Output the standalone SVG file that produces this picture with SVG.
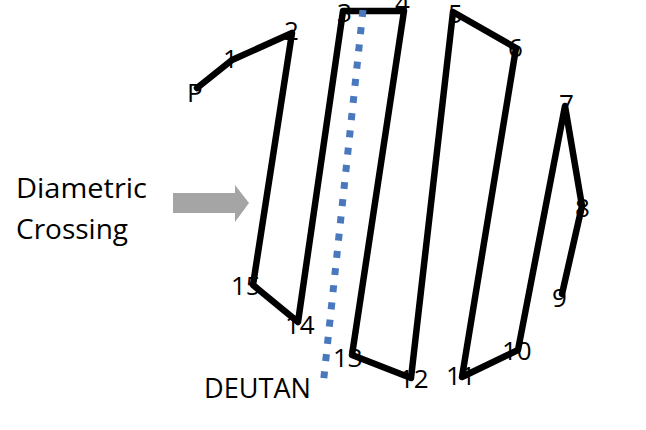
<svg xmlns="http://www.w3.org/2000/svg" width="646" height="430" viewBox="0 0 646 430">
<style>
.lbl{font-family:"Open Sans","Liberation Sans",sans-serif;font-size:27px;fill:#000}
.num{font-family:"Open Sans","Liberation Sans",sans-serif;font-size:26px;fill:#000}
.path{fill:none;stroke:#000;stroke-width:6.5;stroke-linejoin:round;stroke-linecap:round}
.deutan{fill:none;stroke:#4a78bd;stroke-width:7;stroke-dasharray:7 10.3}
</style>
<rect width="646" height="430" fill="#fff"/>
<g id="labels">
<g id="n-P"><text class="num" x="187" y="102">P</text></g>
<g id="n-1"><text class="num" x="223" y="68">1</text></g>
<g id="n-2"><text class="num" x="284" y="40">2</text></g>
<g id="n-3"><text class="num" x="337" y="22">3</text></g>
<g id="n-4"><text class="num" x="395" y="12">4</text></g>
<g id="n-5"><text class="num" x="448" y="23">5</text></g>
<g id="n-6"><text class="num" x="508" y="57">6</text></g>
<g id="n-7"><text class="num" x="559" y="113">7</text></g>
<g id="n-8"><text class="num" x="575" y="217">8</text></g>
<g id="n-9"><text class="num" x="552" y="307">9</text></g>
<g id="n-10"><text class="num" x="502" y="360">10</text></g>
<g id="n-11"><text class="num" x="446" y="385">11</text></g>
<g id="n-12"><text class="num" x="399" y="388">12</text></g>
<g id="n-13"><text class="num" x="333" y="367">13</text></g>
<g id="n-14"><text class="num" x="285" y="334">14</text></g>
<g id="n-15"><text class="num" x="231" y="295">15</text></g>
<g id="diametric"><text class="lbl" x="16" y="198" textLength="131" lengthAdjust="spacingAndGlyphs">Diametric</text>
<text class="lbl" x="16" y="239" textLength="112" lengthAdjust="spacingAndGlyphs">Crossing</text></g>
<g id="deutan"><text class="lbl" x="204" y="398" textLength="107" lengthAdjust="spacingAndGlyphs">DEUTAN</text></g>
</g>
<g id="connectors">
<polyline class="path" points="197,88 232,60 292,33 253,285 298,322 343,11 404,11 352,355 411,378 453,12 516,48 462,377 518,350 565,106 582,206 562,294"/>
<line id="deutan-line" class="deutan" x1="363" y1="10" x2="323" y2="386"/>
<g id="arrow" fill="#a5a5a5">
<rect x="173" y="193" width="63" height="20"/>
<polygon points="235,185 249,203 235,222"/>
</g>
</g>
</svg>
